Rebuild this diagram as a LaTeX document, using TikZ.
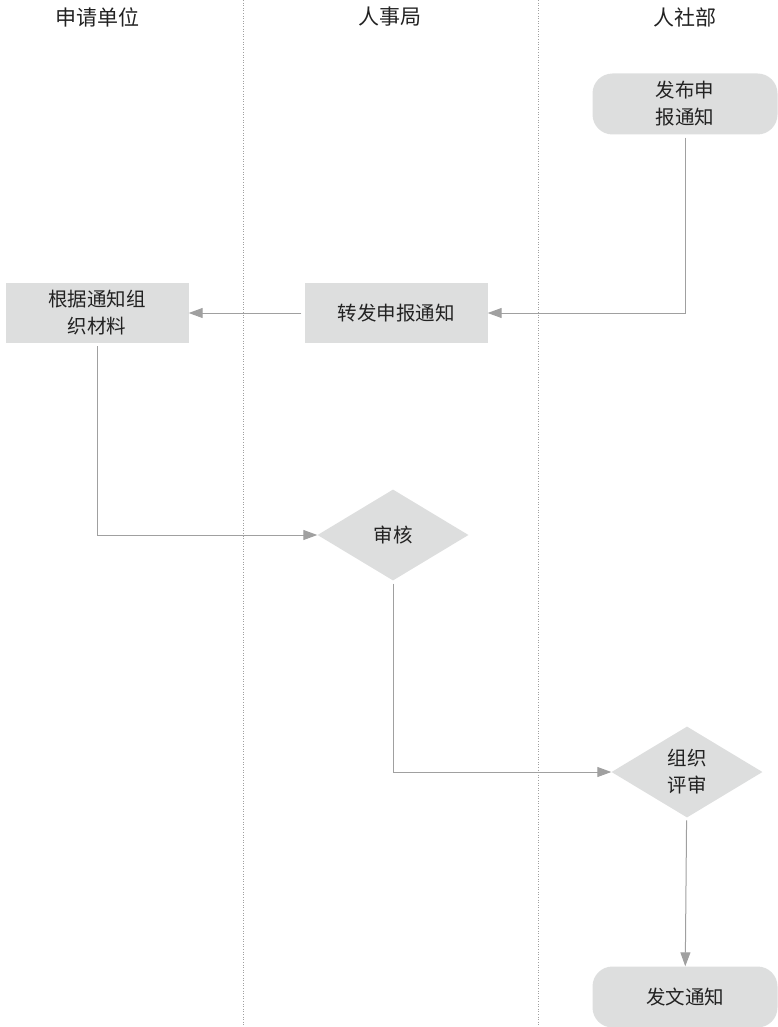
\documentclass[tikz,border=0pt]{standalone}
\usepackage{fontspec}
\setmainfont{Noto Sans CJK SC}
\usetikzlibrary{shapes.geometric,arrows.meta}
\definecolor{boxgray}{HTML}{DDDEDE}
\definecolor{linegray}{HTML}{A0A0A0}
\definecolor{textgray}{HTML}{222222}

\begin{document}
\begin{tikzpicture}[x=1pt, y=-1pt,
  every node/.style={font=\fontsize{19.5}{27}\selectfont, text=textgray, align=center},
  head/.style={font=\fontsize{21}{27}\selectfont},
  lane/.style={draw=linegray, dotted, line width=0.6pt},
  term/.style={fill=boxgray, rounded corners=20pt, minimum width=185pt, minimum height=61pt},
  proc/.style={fill=boxgray, minimum width=183pt, minimum height=60pt},
  check/.style={diamond, fill=boxgray, minimum width=151pt, minimum height=91pt, inner sep=0pt},
  flow/.style={draw=linegray, line width=1pt, -{Triangle[length=14pt,width=10pt]}, shorten <=3pt}]
\useasboundingbox (0,0) rectangle (777,1027);
% lanes
\node[head] (hsq) at (97,17) {申请单位};
\node[head] (hrs) at (390,17) {人事局};
\node[head] (hrb) at (685,17) {人社部};
\coordinate (l1t) at (243,0);
\coordinate (l1b) at (243,1025);
\coordinate (l2t) at (538,0);
\coordinate (l2b) at (538,1025);
\draw[lane] (l1t) -- (l1b);
\draw[lane] (l2t) -- (l2b);
% steps
\node[term] (fb) at (685,104) {发布申\\报通知};
\node[proc] (zf) at (396,313) {转发申报通知};
\node[proc] (gj) at (97,313) {根据通知组\\织材料};
\node[check] (sh) at (393,535) {审核};
\node[check] (ps) at (687,772) {组织\\评审};
\node[term] (fw) at (685,997) {发文通知};
% flow
\draw[flow] (fb.south) |- (zf.east);
\draw[flow] (zf) -- (gj);
\draw[flow] (gj.south) |- (sh.west);
\draw[flow] (sh.south) |- (ps.west);
\draw[flow] (ps) -- (fw);
\end{tikzpicture}
\end{document}
